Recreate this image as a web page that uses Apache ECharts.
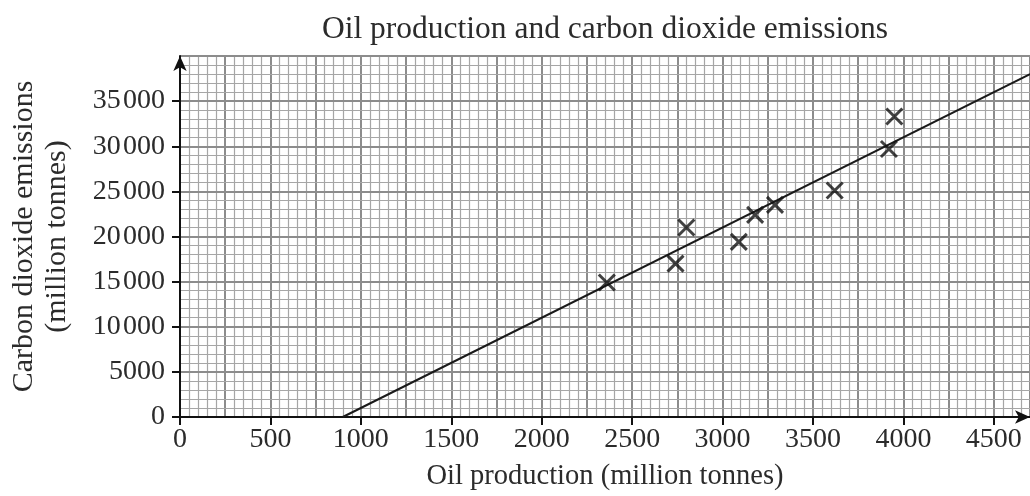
<!DOCTYPE html>
<html>
<head>
<meta charset="utf-8">
<title>Oil production and carbon dioxide emissions</title>
<script src="https://cdn.jsdelivr.net/npm/echarts@6/dist/echarts.min.js"></script>
<style>
  html, body { margin: 0; padding: 0; background: #ffffff; }
  #chart { width: 1030px; height: 496px; }
</style>
</head>
<body>
<div id="chart"></div>
<script>
// Observed points: oil production vs CO2 emissions (million tonnes)
const oilProduction = [2360, 2740, 2800, 3090, 3180, 3290, 3620, 3920, 3950];
const co2Emissions  = [14900, 17000, 21000, 19400, 22400, 23500, 25100, 29700, 33300];

// Line of best fit, given by its two end points
const fitOil = [900, 4700];
const fitCo2 = [0, 38000];

// Axis ranges and tick steps
const xRange = [0, 4700];
const yRange = [0, 40000];
const xLabelStep = 500;
const xPaperStep = 250;
const yLabelStep = 5000;

const serif = '"Liberation Serif", "DejaVu Serif", serif';
const inkColor = '#2b2b2b';
const paperMinor = '#a6a6a6';
const paperMajor = '#8c8c8c';

// 35000 -> "35 000" with a narrow gap; four-digit values stay plain
function groupThousands(v) {
  if (v >= 10000) {
    const s = String(v);
    return s.slice(0, -3) + '\u200A' + s.slice(-3);
  }
  return String(v);
}

const scatterData = oilProduction.map((x, i) => [x, co2Emissions[i]]);
const fitData = fitOil.map((x, i) => [x, fitCo2[i]]);

const chart = echarts.init(document.getElementById('chart'), null, { renderer: 'canvas' });

chart.setOption({
  animation: false,
  backgroundColor: '#ffffff',
  title: {
    text: 'Oil production and carbon dioxide emissions',
    left: 600,
    textAlign: 'center',
    top: 9,
    textStyle: { fontFamily: serif, fontSize: 31.5, fontWeight: 'normal', color: inkColor }
  },
  grid: { left: 180, top: 56, width: 852, height: 363, containLabel: false },
  xAxis: [
    {
      type: 'value',
      min: xRange[0], max: xRange[1], interval: xLabelStep,
      name: 'Oil production (million tonnes)',
      nameLocation: 'middle',
      nameGap: 45,
      nameTextStyle: { fontFamily: serif, fontSize: 28.5, color: inkColor },
      axisLine: { show: true, symbol: ['none', 'arrow'], symbolSize: [10, 15],
        lineStyle: { color: '#111', width: 2 } },
      axisTick: { show: true, length: 8, lineStyle: { color: '#111', width: 2 } },
      axisLabel: { fontFamily: serif, fontSize: 28, color: inkColor, margin: 9,
        showMaxLabel: false, formatter: (v) => String(v) },
      splitLine: { show: false },
      z: 5
    },
    {
      // graph-paper verticals: heavy every 250, fine every 50
      type: 'value',
      min: xRange[0], max: xRange[1], interval: xPaperStep,
      axisLine: { show: false }, axisTick: { show: false }, axisLabel: { show: false },
      splitLine: { show: true, lineStyle: { color: paperMajor, width: 2 } },
      minorTick: { show: false, splitNumber: 5 },
      minorSplitLine: { show: true, lineStyle: { color: paperMinor, width: 1.2 } }
    }
  ],
  yAxis: {
    type: 'value',
    min: yRange[0], max: yRange[1], interval: yLabelStep,
    name: 'Carbon dioxide emissions\n(million tonnes)',
    nameLocation: 'middle',
    nameRotate: 90,
    nameGap: 106,
    nameTextStyle: { fontFamily: serif, fontSize: 30, color: inkColor, lineHeight: 33 },
    axisLine: { show: true, symbol: ['none', 'arrow'], symbolSize: [10, 15],
      lineStyle: { color: '#111', width: 2 } },
    axisTick: { show: true, length: 8, lineStyle: { color: '#111', width: 2 } },
    axisLabel: { fontFamily: serif, fontSize: 28, color: inkColor, margin: 15,
      showMaxLabel: false, formatter: groupThousands },
    splitLine: { show: true, lineStyle: { color: paperMajor, width: 2 } },
    minorTick: { show: false, splitNumber: 5 },
    minorSplitLine: { show: true, lineStyle: { color: paperMinor, width: 1.2 } },
    z: 5
  },
  series: [
    {
      type: 'line',
      xAxisIndex: 0,
      data: fitData,
      showSymbol: false,
      symbol: 'none',
      clip: true,
      lineStyle: { color: '#1a1a1a', width: 2 },
      silent: true,
      z: 6
    },
    {
      type: 'scatter',
      xAxisIndex: 0,
      data: scatterData,
      symbol: 'path://M0,0L10,10M10,0L0,10',
      symbolSize: 16,
      itemStyle: { color: 'none', borderColor: '#111111', borderWidth: 3 },
      silent: true,
      z: 7
    }
  ]
});
</script>
</body>
</html>
